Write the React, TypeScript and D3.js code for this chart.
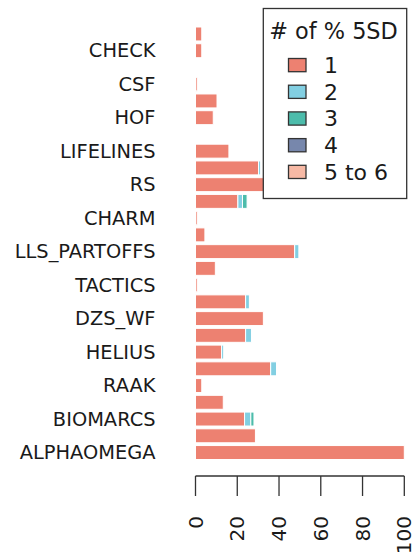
import React from "react";
import * as d3 from "d3";

// Categories, top to bottom (labels hidden by R's overlap rule are "")
const categories = [
  "", "CHECK", "", "CSF", "", "HOF", "", "LIFELINES", "", "RS", "", "CHARM", "",
  "LLS_PARTOFFS", "", "TACTICS", "", "DZS_WF", "", "HELIUS", "", "RAAK", "", "BIOMARCS", "", "ALPHAOMEGA",
];
const s1 = [3, 3, 0, 0.8, 10.3, 8.5, 0, 16, 30.2, 34, 20.3, 0.8, 4.5, 47.5, 9.5, 0.8, 24, 32.5, 24, 12.5, 36, 3, 13.3, 23.5, 28.7, 100];
const s2 = [0, 0, 0, 0, 0, 0, 0, 0, 1, 0, 2.2, 0, 0, 2, 0, 0, 1.8, 0, 2.8, 1, 2.8, 0, 0, 3, 0, 0];
const s3 = [0, 0, 0, 0, 0, 0, 0, 0, 0, 0, 2.2, 0, 0, 0, 0, 0, 0, 0, 0, 0, 0, 0, 0, 1.5, 0, 0];
const s4 = [0, 0, 0, 0, 0, 0, 0, 0, 0, 0, 0, 0, 0, 0, 0, 0, 0, 0, 0, 0, 0, 0, 0, 0, 0, 0];
const s5 = [0, 0, 0, 0, 0, 0, 0, 0, 0, 0, 0, 0, 0, 0, 0, 0, 0, 0, 0, 0, 0, 0, 0, 0, 0, 0];
const seriesNames = ["1", "2", "3", "4", "5 to 6"];
const seriesColors = ["#ED8171", "#82CFE2", "#4CBCAB", "#7787AC", "#F7B9A5"];
const legendTitle = "# of % 5SD";
const xTicks = [0, 20, 40, 60, 80, 100];

export default function App() {
  const W = 413, H = 556;
  const font = "DejaVu Sans, sans-serif";
  const idx = categories.map((_, i) => i);
  const y = d3.scaleBand<number>().domain(idx).range([25.6, 460.9]).paddingInner(1 / 6).paddingOuter(1 / 12);
  const x = d3.scaleLinear().domain([0, 100]).range([195.5, 404.3]);
  const series = [s1, s2, s3, s4, s5];
  const rows = idx.map((i) => {
    const o: any = { i };
    series.forEach((s, k) => (o["k" + k] = s[i]));
    return o;
  });
  const stack = d3.stack<any>().keys(series.map((_, k) => "k" + k))(rows);
  const axisY = 476;
  return (
    <svg width={W} height={H} style={{ position: "absolute", left: 0, top: 0, background: "#fff" }}>
      {stack.map((layer, k) =>
        layer.map((d, i) =>
          d[1] - d[0] > 0 ? (
            <rect key={k + "-" + i} x={x(d[0])} y={y(i)} width={x(d[1]) - x(d[0])} height={y.bandwidth()}
              fill={seriesColors[k]} stroke="#fff" strokeWidth={1} />
          ) : null
        )
      )}
      {categories.map((c, i) =>
        c ? (
          <text key={"l" + i} x={155.5} y={(y(i) as number) + y.bandwidth() / 2} textAnchor="end" dominantBaseline="central"
            fontFamily={font} fontSize={19.4} fill="#1a1a1a">{c}</text>
        ) : null
      )}
      <line x1={x(0)} x2={x(100)} y1={axisY} y2={axisY} stroke="#333" strokeWidth={1.3} />
      {xTicks.map((t) => (
        <g key={"t" + t}>
          <line x1={x(t)} x2={x(t)} y1={axisY} y2={axisY + 20} stroke="#333" strokeWidth={1.3} />
          <text transform={`translate(${x(t)},${516}) rotate(-90)`} textAnchor="end" dominantBaseline="central"
            fontFamily={font} fontSize={20} fill="#1a1a1a">{t}</text>
        </g>
      ))}
      <rect x={263.3} y={8.5} width={143.4} height={190} fill="#fff" stroke="#333" strokeWidth={1.3} />
      <text x={333.5} y={31} textAnchor="middle" dominantBaseline="central" fontFamily={font} fontSize={22.4} fill="#1a1a1a">{legendTitle}</text>
      {seriesNames.map((n, k) => (
        <g key={"lg" + k}>
          <rect x={288.5} y={58.5 + k * 26.7} width={17.5} height={13.2} fill={seriesColors[k]} stroke="#333" strokeWidth={1.3} />
          <text x={324} y={65.5 + k * 26.7} dominantBaseline="central" fontFamily={font} fontSize={22} fill="#1a1a1a">{n}</text>
        </g>
      ))}
    </svg>
  );
}
